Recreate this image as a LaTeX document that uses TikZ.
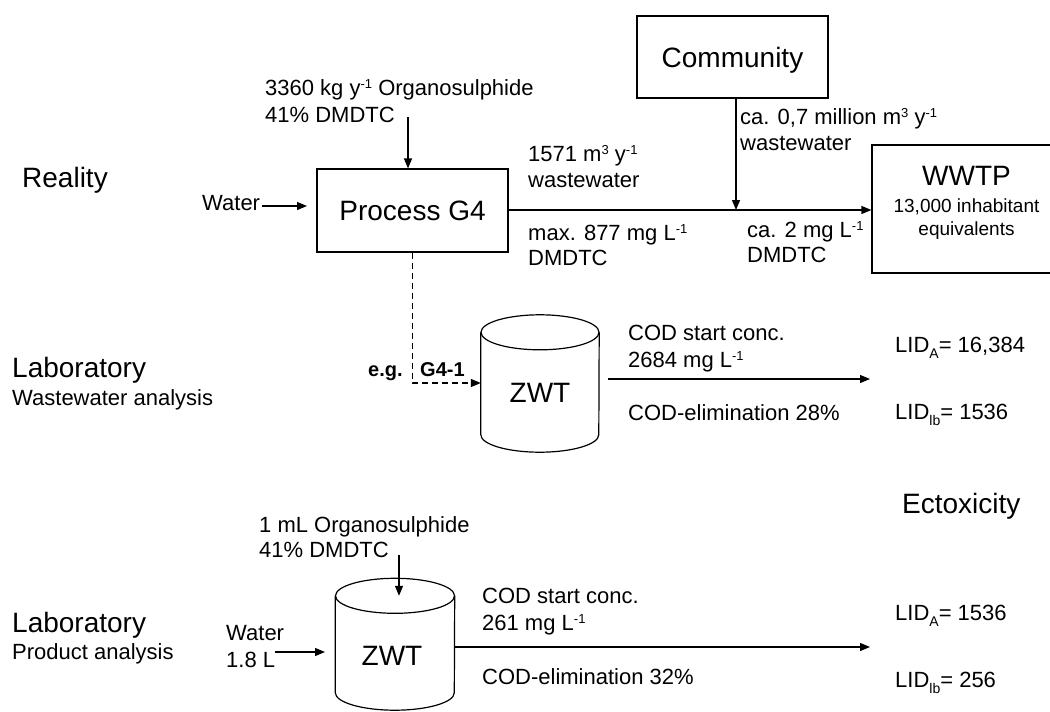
\documentclass[tikz,border=0pt]{standalone}
\usepackage{fontspec}
\setmainfont{Liberation Sans}
\usetikzlibrary{arrows.meta}
\newcommand\supx[1]{\raisebox{0.33em}{\fontsize{13}{13}\selectfont #1}}
\newcommand\subx[1]{\raisebox{-0.24em}{\fontsize{14}{14}\selectfont #1}}
\begin{document}
\begin{tikzpicture}[x=1pt,y=-1pt,
  big/.style={font=\fontsize{28}{32}\selectfont, inner sep=0pt, text height=20pt, text depth=0pt},
  sm/.style={font=\fontsize{22}{26}\selectfont, inner sep=0pt, text height=15.8pt, text depth=0pt},
  tiny/.style={font=\fontsize{19}{23}\selectfont, inner sep=0pt, text height=13.7pt, text depth=0pt},
  smb/.style={font=\fontsize{20}{24}\selectfont\bfseries, inner sep=0pt, text height=14.4pt, text depth=0pt},
  lt/.style={anchor=west},
  boxnode/.style={draw, line width=1.2pt, inner sep=0pt},
  arr/.style={-{Triangle[length=10pt,width=8pt]}, line width=1.2pt},
  dasharr/.style={-{Triangle[length=10pt,width=8pt]}, line width=1.2pt, dash pattern=on 6pt off 4pt},
  cyl/.style={line width=1.2pt}
]
\clip (0,0) rectangle (1050,712);
\fill[white] (0,0) rectangle (1050,712);

% ---------- Reality ----------
\node[big,lt] (reality) at (22,177) {Reality};
\node[sm,lt] (org1a) at (265,88) {3360 kg y\supx{-1} Organosulphide};
\node[sm,lt] (org1b) at (265,115) {41\% DMDTC};
\node[sm,lt] (water1) at (202,203) {Water};

\node[boxnode, minimum width=191pt, minimum height=83pt, big] (proc) at (412.5,210.5) {Process G4};
\node[boxnode, minimum width=191pt, minimum height=82pt, big] (comm) at (732.5,57) {Community};
\node[boxnode, minimum width=189pt, minimum height=128pt] (wwtp) at (966.5,209) {};
\node[big] (wwtpt) at (966.5,175) {WWTP};
\node[tiny] (wwtps1) at (966.5,206) {13,000 inhabitant};
\node[tiny] (wwtps2) at (966.5,229) {equivalents};

\coordinate (o1s) at (408,117);
\draw[arr] (o1s) -- (o1s |- proc.north);
\coordinate (w1s) at (262,206);
\coordinate (w1e) at (307,206);
\draw[arr] (w1s) -- (w1e);

\coordinate (jn) at (736,210);
\draw[arr] (proc.east |- jn) -- (wwtp.west |- jn);
\draw[arr] (comm.south -| jn) -- (jn);

\node[sm,lt] (q1a) at (528,154) {1571 m\supx{3} y\supx{-1}};
\node[sm,lt] (q1b) at (528,180) {wastewater};
\node[sm,lt] (c1a) at (528,233) {max. 877 mg L\supx{-1}};
\node[sm,lt] (c1b) at (528,258) {DMDTC};
\node[sm,lt] (q2a) at (740,117) {ca. 0,7 million m\supx{3} y\supx{-1}};
\node[sm,lt] (q2b) at (740,143) {wastewater};
\node[sm,lt] (c2a) at (747,230) {ca. 2 mg L\supx{-1}};
\node[sm,lt] (c2b) at (747,255) {DMDTC};

% ---------- Laboratory: wastewater analysis ----------
\node[big,lt] (lab1) at (12,367) {Laboratory};
\node[sm,lt] (lab1s) at (12,398) {Wastewater analysis};

\node[minimum width=118pt, minimum height=102pt, inner sep=0pt] (zwt1) at (540,383.5) {};
\draw[cyl] (zwt1.north west) -- (zwt1.south west)
  arc[start angle=180, end angle=360, x radius=59pt, y radius=17.5pt]
  -- (zwt1.north east);
\draw[cyl] (zwt1.north) ellipse [x radius=59pt, y radius=17.5pt];
\node[big] (zwt1t) at (540,392) {ZWT};

\coordinate (d1) at (412.5,383);
\draw[dasharr] (proc.south) -- (d1) -- (d1 -| zwt1.west);
\node[smb,lt] (eg) at (368,369) {e.g.};
\node[smb,lt] (g41) at (420,369) {G4-1};

\coordinate (a1s) at (608,379);
\coordinate (a1e) at (870,379);
\draw[arr] (a1s) -- (a1e);
\node[sm,lt] (cod1a) at (628,333) {COD start conc.};
\node[sm,lt] (cod1b) at (628,360) {2684 mg L\supx{-1}};
\node[sm,lt] (cod1c) at (628,413) {COD-elimination 28\%};
\node[sm,lt] (lid1a) at (895,345) {LID\subx{A}= 16,384};
\node[sm,lt] (lid1b) at (895,412) {LID\subx{lb}= 1536};

\node[big,lt] (ecto) at (902,503) {Ectoxicity};

% ---------- Laboratory: product analysis ----------
\node[big,lt] (lab2) at (12,622) {Laboratory};
\node[sm,lt] (lab2s) at (12,652) {Product analysis};

\node[minimum width=119pt, minimum height=96.5pt, inner sep=0pt] (zwt2) at (395,644.25) {};
\draw[cyl] (zwt2.north west) -- (zwt2.south west)
  arc[start angle=180, end angle=360, x radius=59.5pt, y radius=17.5pt]
  -- (zwt2.north east);
\draw[cyl] (zwt2.north) ellipse [x radius=59.5pt, y radius=17.5pt];
\node[big] (zwt2t) at (392,655) {ZWT};

\node[sm,lt] (org2a) at (259,525) {1 mL Organosulphide};
\node[sm,lt] (org2b) at (259,550) {41\% DMDTC};
\coordinate (o2s) at (399,555);
\draw[arr] (o2s) -- (o2s |- zwt2.north);

\node[sm,lt] (water2a) at (226,633) {Water};
\node[sm,lt] (water2b) at (226,660) {1.8 L};
\coordinate (w2s) at (275,652);
\coordinate (w2e) at (325,652);
\draw[arr] (w2s) -- (w2e);

\coordinate (a2e) at (870,647);
\draw[arr] (zwt2.east |- a2e) -- (a2e);
\node[sm,lt] (cod2a) at (482,596) {COD start conc.};
\node[sm,lt] (cod2b) at (482,623) {261 mg L\supx{-1}};
\node[sm,lt] (cod2c) at (482,677) {COD-elimination 32\%};
\node[sm,lt] (lid2a) at (895,613) {LID\subx{A}= 1536};
\node[sm,lt] (lid2b) at (895,680) {LID\subx{lb}= 256};
\end{tikzpicture}
\end{document}
